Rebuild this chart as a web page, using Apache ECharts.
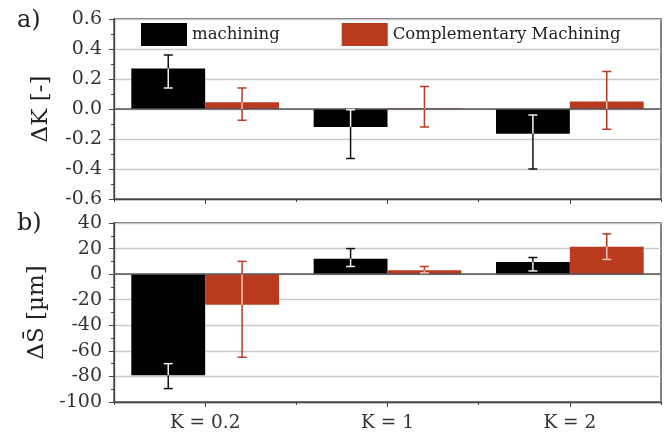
<!DOCTYPE html>
<html>
<head>
<meta charset="utf-8">
<script src="https://cdn.jsdelivr.net/npm/echarts@6/dist/echarts.min.js"></script>
<style>
  html, body { margin: 0; padding: 0; background: #fff; }
  #main { width: 670px; height: 436px; }
</style>
</head>
<body>
<div id="main"></div>
<script>
// data
var categories = ['K = 0.2', 'K = 1', 'K = 2'];

// a) delta K [-]
var dK_mach    = [0.27, -0.12, -0.165];
var dK_mach_lo = [0.14, -0.33, -0.40];
var dK_mach_hi = [0.36, -0.005, -0.04];
var dK_comp    = [0.045, 0.005, 0.05];
var dK_comp_lo = [-0.075, -0.12, -0.135];
var dK_comp_hi = [0.14, 0.15, 0.25];

// b) delta S [um]
var dS_mach    = [-79, 12, 9.5];
var dS_mach_lo = [-89.5, 6, 2.5];
var dS_mach_hi = [-70, 20, 13];
var dS_comp    = [-24, 3, 21.5];
var dS_comp_lo = [-65, 1, 11.5];
var dS_comp_hi = [10, 6, 31.5];

var FONT = 'DejaVu Serif';
var BLACK = '#000000';
var RED = '#b93a1e';
var AXIS = '#444444';
var GRIDLINE = '#c9c9c9';

function errRows(vals, lo, hi, side) {
    var res = [];
    for (var i = 0; i < vals.length; i++) {
        res.push([i, lo[i], hi[i], vals[i], side]);
    }
    return res;
}

// error bar: drawn in outer colour, the part lying inside the bar in a light colour
function makeErr(outer, inner) {
    return function (params, api) {
        var ci = api.value(0), lo = api.value(1), hi = api.value(2), v = api.value(3), side = api.value(4);
        var band = api.size([1, 0])[0];
        var x = api.coord([ci, 0])[0] + side * band * 0.2025;
        var yLo = api.coord([ci, lo])[1];
        var yHi = api.coord([ci, hi])[1];
        var y0 = api.coord([ci, 0])[1];
        var yv = api.coord([ci, v])[1];
        var bTop = Math.min(y0, yv), bBot = Math.max(y0, yv);
        var top = Math.min(yLo, yHi), bot = Math.max(yLo, yHi);
        var cw = 4.5;
        var kids = [{
            type: 'line', shape: { x1: x, y1: top, x2: x, y2: bot },
            style: { stroke: outer, lineWidth: 1.5 }
        }];
        var s = Math.max(top, bTop), e = Math.min(bot, bBot);
        if (e > s) {
            kids.push({
                type: 'line', shape: { x1: x, y1: s, x2: x, y2: e },
                style: { stroke: inner, lineWidth: 1.5 }
            });
        }
        [top, bot].forEach(function (yc) {
            var inside = yc > bTop + 0.5 && yc < bBot - 0.5;
            kids.push({
                type: 'line', shape: { x1: x - cw, y1: yc, x2: x + cw, y2: yc },
                style: { stroke: inside ? inner : outer, lineWidth: 1.5 }
            });
        });
        return { type: 'group', children: kids };
    };
}

function yAxisCfg(gi, min, max, interval, name, digits) {
    return {
        type: 'value', gridIndex: gi, min: min, max: max, interval: interval,
        name: name, nameLocation: 'middle', nameGap: 61,
        nameTextStyle: { fontFamily: FONT, fontSize: 23, color: '#222' },
        axisLine: { show: true, lineStyle: { color: AXIS, width: 1.3 } },
        axisTick: { show: true, length: 5, lineStyle: { color: AXIS } },
        minorTick: { show: true, splitNumber: 2, length: 3, lineStyle: { color: AXIS } },
        axisLabel: {
            fontFamily: FONT, fontSize: 19, color: '#333', margin: 12,
            formatter: function (v) { return v.toFixed(digits); }
        },
        splitLine: { show: true, lineStyle: { color: GRIDLINE, width: 1.3 } }
    };
}

function xAxesFor(gi, showLabels) {
    return [{
        type: 'category', gridIndex: gi, data: categories, position: 'bottom',
        axisLine: { onZero: false, lineStyle: { color: AXIS, width: 1.3 } },
        axisTick: { show: true, length: 3, lineStyle: { color: AXIS } },
        axisLabel: { show: showLabels, fontFamily: FONT, fontSize: 18.5, color: '#333', margin: 12 }
    }, {
        type: 'category', gridIndex: gi, data: categories, position: 'bottom',
        axisLine: { show: false, onZero: false },
        axisTick: { show: true, alignWithLabel: true, length: 5, lineStyle: { color: AXIS } },
        axisLabel: { show: false }
    }];
}

var zeroLine = {
    silent: true, symbol: 'none', label: { show: false },
    lineStyle: { color: '#555', type: 'solid', width: 1.5 },
    data: [{ yAxis: 0 }]
};

var chart = echarts.init(document.getElementById('main'));

var option = {
    backgroundColor: '#fff',
    animation: false,
    title: [
        { text: 'a)', left: 12, top: 4, textStyle: { fontFamily: FONT, fontSize: 24, fontWeight: 'normal', color: '#222' } },
        { text: 'b)', left: 12, top: 207, textStyle: { fontFamily: FONT, fontSize: 24, fontWeight: 'normal', color: '#222' } }
    ],
    legend: {
        data: ['machining', 'Complementary Machining'],
        left: 141, top: 23, padding: 0,
        itemWidth: 46, itemHeight: 23, itemGap: 62,
        icon: 'rect',
        textStyle: { fontFamily: FONT, fontSize: 16.5, color: '#222' }
    },
    grid: [
        { left: 114, top: 19, width: 547, height: 180, show: true, borderColor: AXIS, borderWidth: 1.3, backgroundColor: 'transparent' },
        { left: 114, top: 223, width: 547, height: 179, show: true, borderColor: AXIS, borderWidth: 1.3, backgroundColor: 'transparent' }
    ],
    xAxis: xAxesFor(0, false).concat(xAxesFor(1, true)),
    yAxis: [
        yAxisCfg(0, -0.6, 0.6, 0.2, 'ΔK [-]', 1),
        yAxisCfg(1, -100, 40, 20, 'ΔS\u0304 [µm]', 0)
    ],
    series: [
        {
            name: 'machining', type: 'bar', xAxisIndex: 0, yAxisIndex: 0,
            data: dK_mach, barGap: '0%', barCategoryGap: '19%',
            itemStyle: { color: BLACK }, markLine: zeroLine
        },
        {
            name: 'Complementary Machining', type: 'bar', xAxisIndex: 0, yAxisIndex: 0,
            data: dK_comp, barGap: '0%', barCategoryGap: '19%',
            itemStyle: { color: RED }
        },
        {
            name: 'machining', type: 'bar', xAxisIndex: 2, yAxisIndex: 1,
            data: dS_mach, barGap: '0%', barCategoryGap: '19%',
            itemStyle: { color: BLACK }, markLine: zeroLine
        },
        {
            name: 'Complementary Machining', type: 'bar', xAxisIndex: 2, yAxisIndex: 1,
            data: dS_comp, barGap: '0%', barCategoryGap: '19%',
            itemStyle: { color: RED }
        },
        {
            type: 'custom', xAxisIndex: 0, yAxisIndex: 0, z: 5, silent: true,
            renderItem: makeErr('#111', '#f2f2f2'),
            encode: { x: 0, y: [1, 2] },
            data: errRows(dK_mach, dK_mach_lo, dK_mach_hi, -1)
        },
        {
            type: 'custom', xAxisIndex: 0, yAxisIndex: 0, z: 5, silent: true,
            renderItem: makeErr(RED, '#f3c2b6'),
            encode: { x: 0, y: [1, 2] },
            data: errRows(dK_comp, dK_comp_lo, dK_comp_hi, 1)
        },
        {
            type: 'custom', xAxisIndex: 2, yAxisIndex: 1, z: 5, silent: true,
            renderItem: makeErr('#111', '#f2f2f2'),
            encode: { x: 0, y: [1, 2] },
            data: errRows(dS_mach, dS_mach_lo, dS_mach_hi, -1)
        },
        {
            type: 'custom', xAxisIndex: 2, yAxisIndex: 1, z: 5, silent: true,
            renderItem: makeErr(RED, '#f3c2b6'),
            encode: { x: 0, y: [1, 2] },
            data: errRows(dS_comp, dS_comp_lo, dS_comp_hi, 1)
        }
    ]
};

chart.setOption(option);
</script>
</body>
</html>
